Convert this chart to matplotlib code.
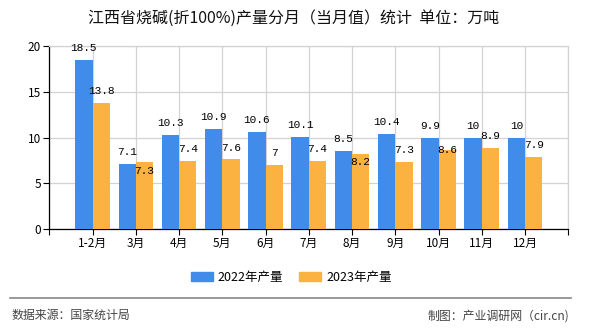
import numpy as np
import matplotlib.pyplot as plt
from matplotlib.patches import Patch
from matplotlib.lines import Line2D

plt.rcParams['font.family'] = ['Noto Sans CJK SC', 'DejaVu Sans']

# data
months = ["1-2月", "3月", "4月", "5月", "6月", "7月", "8月", "9月", "10月", "11月", "12月"]
prod_2022 = [18.5, 7.1, 10.3, 10.9, 10.6, 10.1, 8.5, 10.4, 9.9, 10, 10]
prod_2023 = [13.8, 7.3, 7.4, 7.6, 7, 7.4, 8.2, 7.3, 8.6, 8.9, 7.9]
series_names = ["2022年产量", "2023年产量"]

blue = "#418BEB"
orange = "#FBB240"
# label offsets (pt) where the orange labels were pushed down to avoid overlap
orange_shift = {1: -6.5, 6: -5.8, 8: 0.0}

fig = plt.figure(figsize=(5.9, 3.3), dpi=100)
ax = fig.add_axes([0.0836, 0.306, 0.8795, 0.5545])

x = np.arange(1, len(months) + 1)
w = 0.4
ax.bar(x - w / 2, prod_2022, w, color=blue, zorder=3)
ax.bar(x + w / 2, prod_2023, w, color=orange, zorder=3)

for i in range(len(months)):
    v = prod_2022[i]
    ax.annotate(f"{v:g}", (x[i] - w / 2, v), xytext=(0, 8.6), textcoords="offset points",
                ha="center", va="center", fontsize=8, family="Liberation Mono", zorder=4)
    v = prod_2023[i]
    dy = orange_shift.get(i, 8.6)
    ax.annotate(f"{v:g}", (x[i] + w / 2, v), xytext=(0, dy), textcoords="offset points",
                ha="center", va="center", fontsize=8, family="Liberation Mono", zorder=4)

ax.set_xlim(0, 12)
ax.set_ylim(0, 20)
ax.set_xticks(range(13))
ax.set_xticklabels([""] + months + [""], fontsize=8.5)
ax.set_yticks([0, 5, 10, 15, 20])
ax.set_yticklabels(["0", "5", "10", "15", "20"], fontsize=8.5)
ax.tick_params(axis="both", length=4, width=0.8, color="black", pad=2)
ax.grid(True, color="#D3D3D3", linewidth=0.9, zorder=0)
for s in ["top", "right"]:
    ax.spines[s].set_color("#D3D3D3")
    ax.spines[s].set_linewidth(0.9)
for s in ["left", "bottom"]:
    ax.spines[s].set_color("black")
    ax.spines[s].set_linewidth(0.9)

fig.text(0.4975, 0.943, "江西省烧碱(折100%)产量分月（当月值）统计  单位：万吨",
         ha="center", va="center", fontsize=11.5, color="#111111")

handles = [Patch(color=blue), Patch(color=orange)]
fig.legend(handles, series_names, loc="center", bbox_to_anchor=(0.4936, 0.16),
           ncol=2, frameon=False, fontsize=9, handlelength=1.76, handleheight=0.72,
           handletextpad=0.4, columnspacing=1.28)

fig.add_artist(Line2D([10 / 590, 571 / 590], [1 - 297.7 / 330] * 2, color="#888888", linewidth=1.2))
fig.text(11.5 / 590, 1 - 315.7 / 330, "数据来源：国家统计局", ha="left", va="center",
         fontsize=8.6, color="#444444")
fig.text(569.5 / 590, 1 - 315.7 / 330, "制图：产业调研网（cir.cn)", ha="right", va="center",
         fontsize=8.6, color="#444444")

fig.savefig("out.png", dpi=100)
